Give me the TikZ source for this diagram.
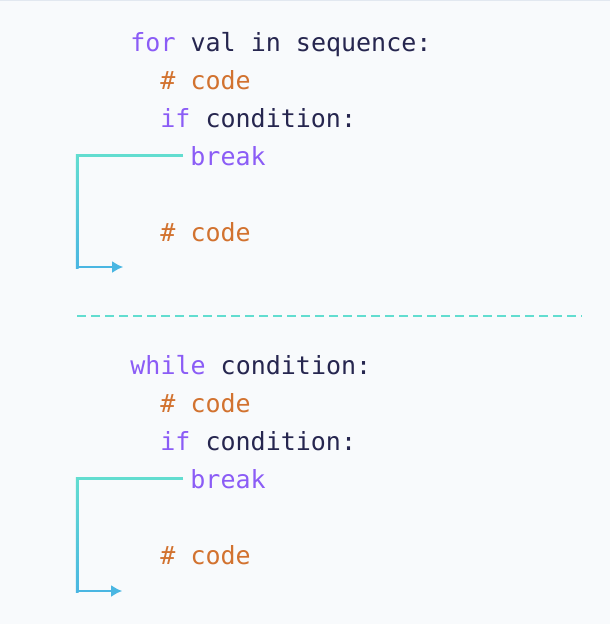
\documentclass[tikz,border=0pt]{standalone}
\usepackage{fontspec}
\setmonofont{DejaVu Sans Mono}
\usetikzlibrary{arrows.meta}
\definecolor{bgc}{HTML}{F8FAFC}
\definecolor{edgec}{HTML}{E2E8F0}
\definecolor{navy}{HTML}{26264F}
\definecolor{kwc}{HTML}{8B5CF6}
\definecolor{cmc}{HTML}{D2722F}
\definecolor{topc}{HTML}{62DDD0}
\definecolor{botc}{HTML}{4AB6E2}
\newcommand{\kw}[1]{\textcolor{kwc}{#1}}
\newcommand{\cm}[1]{\textcolor{cmc}{#1}}
\tikzset{
  code/.style={anchor=base west, inner sep=0pt, text=navy,
    font=\ttfamily\fontsize{25}{30}\selectfont},
  jump/.style={line width=2.8pt},
  sepline/.style={line width=2.6pt, topc, dash pattern=on 9pt off 5pt},
}
\begin{document}
\begin{tikzpicture}[x=1pt, y=-1pt]
\fill[bgc] (0,0) rectangle (610,624);
\draw[edgec] (0,.5)--(610,.5);
\coordinate (lft) at (77,0);
% for loop
\node[code] (for1) at (130,51) {\kw{for} val in sequence:};
\node[code] (cA1) at (160,89) {\cm{\# code}};
\node[code] (if1) at (160,127) {\kw{if} condition:};
\node[code] (brk1) at (190,165) {\kw{break}};
\node[code] (cB1) at (160,241) {\cm{\# code}};
\coordinate (out1) at (123,267);
\coordinate (s1) at ([xshift=-7pt]brk1.west);
\coordinate (t1) at (s1 -| lft);
\coordinate (b1) at (out1 -| lft);
\draw[jump, topc] (s1)--(t1);
\shade[top color=topc, bottom color=botc] ([xshift=-1.4pt,yshift=1.4pt]t1) rectangle ([xshift=1.4pt,yshift=-1.4pt]b1);
\draw[jump, botc, -{Latex[length=11pt,width=12pt]}] (b1)--(out1);
% separator
\coordinate (dl) at (77,316);
\coordinate (dr) at (582,316);
\draw[sepline] (dl)--(dr);
% while loop
\node[code] (whl2) at (130,374) {\kw{while} condition:};
\node[code] (cA2) at (160,412) {\cm{\# code}};
\node[code] (if2) at (160,450) {\kw{if} condition:};
\node[code] (brk2) at (190,488) {\kw{break}};
\node[code] (cB2) at (160,564) {\cm{\# code}};
\coordinate (out2) at (122,591);
\coordinate (s2) at ([xshift=-7pt]brk2.west);
\coordinate (t2) at (s2 -| lft);
\coordinate (b2) at (out2 -| lft);
\draw[jump, topc] (s2)--(t2);
\shade[top color=topc, bottom color=botc] ([xshift=-1.4pt,yshift=1.4pt]t2) rectangle ([xshift=1.4pt,yshift=-1.4pt]b2);
\draw[jump, botc, -{Latex[length=11pt,width=12pt]}] (b2)--(out2);
\end{tikzpicture}
\end{document}
